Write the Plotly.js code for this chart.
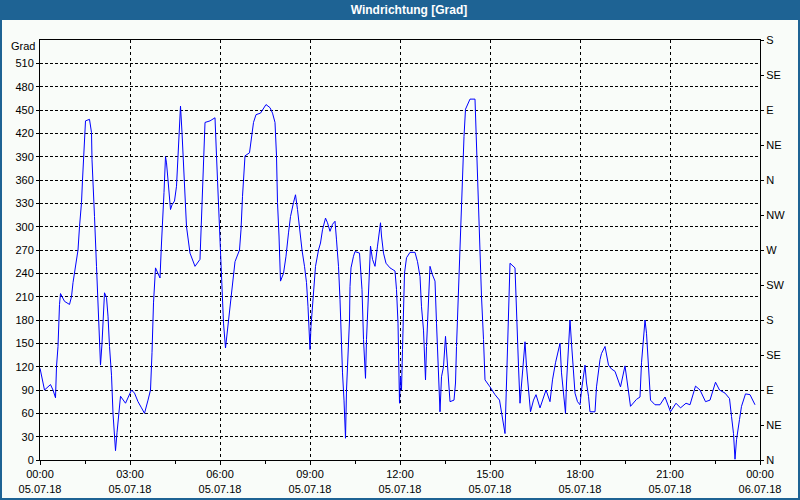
<!DOCTYPE html>
<html>
<head>
<meta charset="utf-8">
<script src="https://cdn.plot.ly/plotly-3.0.1.min.js"></script>
<style>html,body{margin:0;padding:0;background:#f9fcf9;}#chart{width:800px;height:500px;}</style>
</head>
<body>
<div id="chart"></div>
<script>
const day = '2018-07-05';
const times = ['00:00','00:09','00:21','00:26','00:31','00:33','00:36','00:37','00:39','00:41','00:49','00:59','01:03','01:06','01:09','01:13','01:16','01:19','01:23','01:25','01:27','01:29','01:31','01:39','01:43','01:44','01:46','01:49','01:53','01:55','01:57','01:59','02:01','02:04','02:07','02:09','02:13','02:16','02:19','02:23','02:26','02:29','02:31','02:34','02:37','02:41','02:51','02:59','03:03','03:09','03:16','03:23','03:29','03:36','03:41','03:44','03:47','03:51','03:55','04:00','04:03','04:06','04:08','04:11','04:13','04:16','04:21','04:24','04:29','04:33','04:36','04:39','04:41','04:44','04:47','04:51','04:53','05:00','05:10','05:20','05:23','05:27','05:30','05:40','05:50','05:53','05:58','06:01','06:04','06:07','06:11','06:15','06:20','06:25','06:30','06:39','06:42','06:45','06:50','06:59','07:03','07:07','07:12','07:21','07:32','07:40','07:45','07:50','07:53','07:55','07:58','08:01','08:07','08:12','08:17','08:21','08:27','08:31','08:35','08:39','08:44','08:49','08:53','08:56','08:58','09:00','09:02','09:05','09:08','09:11','09:17','09:21','09:25','09:31','09:35','09:40','09:45','09:50','09:53','09:57','10:00','10:03','10:05','10:08','10:10','10:11','10:13','10:16','10:19','10:20','10:22','10:27','10:30','10:39','10:41','10:44','10:47','10:49','10:51','10:53','10:56','10:59','11:01','11:05','11:10','11:15','11:19','11:21','11:23','11:27','11:32','11:40','11:50','11:53','11:56','11:58','11:59','12:01','12:03','12:05','12:07','12:09','12:13','12:20','12:30','12:35','12:40','12:43','12:47','12:49','12:51','12:53','12:57','13:00','13:05','13:10','13:13','13:17','13:20','13:23','13:27','13:31','13:33','13:37','13:40','13:48','13:51','13:53','13:56','13:59','14:02','14:05','14:08','14:11','14:17','14:20','14:30','14:33','14:37','14:40','14:43','14:47','14:50','15:00','15:10','15:19','15:23','15:27','15:30','15:33','15:37','15:40','15:50','15:53','15:57','16:00','16:03','16:07','16:10','16:13','16:17','16:21','16:27','16:32','16:40','16:47','16:52','17:00','17:05','17:11','17:16','17:20','17:23','17:27','17:31','17:33','17:37','17:40','17:43','17:47','17:50','17:55','18:00','18:03','18:07','18:10','18:13','18:17','18:20','18:30','18:33','18:37','18:40','18:43','18:50','18:57','19:03','19:10','19:21','19:30','19:33','19:41','19:53','20:00','20:03','20:10','20:13','20:18','20:21','20:30','20:40','20:50','21:01','21:12','21:21','21:32','21:40','21:51','22:00','22:11','22:20','22:31','22:39','22:50','22:59','23:03','23:07','23:10','23:13','23:19','23:23','23:31','23:40','23:50'];
const values = [118,90,97,90,80,120,146,172,200,214,204,200,210,228,241,254,270,300,331,360,390,421,436,438,421,386,348,313,249,219,191,150,122,150,193,215,209,185,146,109,60,26,12,35,60,82,73,86,90,86,75,67,60,77,90,138,202,247,241,234,279,313,344,390,382,360,322,328,333,352,395,434,455,421,373,331,300,266,249,258,309,382,434,436,440,391,318,262,210,176,144,167,193,223,255,270,296,339,391,395,412,434,444,446,457,453,446,434,391,331,288,230,240,262,292,313,331,341,322,296,270,249,228,197,172,142,172,202,228,249,270,279,296,311,305,294,303,307,283,249,206,146,112,77,47,28,90,137,180,223,247,262,268,266,249,219,155,120,105,155,210,253,275,258,249,275,296,305,288,266,253,247,243,219,176,125,73,107,90,142,197,240,260,267,267,255,236,197,167,120,103,146,202,249,238,230,176,112,62,107,120,159,142,99,75,77,99,146,202,270,322,369,416,451,459,464,464,399,331,262,210,155,103,94,84,77,62,47,34,99,185,253,247,185,120,73,99,133,152,120,90,62,77,84,67,82,90,75,103,125,140,150,112,82,60,99,150,180,150,112,86,75,71,90,107,122,99,82,62,62,94,116,129,137,146,122,117,114,94,121,107,69,78,81,125,180,163,112,77,71,71,81,62,73,67,73,71,95,90,75,77,100,90,86,79,56,34,1,26,52,69,85,84,71];
const leftTicks = [0,30,60,90,120,150,180,210,240,270,300,330,360,390,420,450,480,510];
const rightTicks = [0,45,90,135,180,225,270,315,360,405,450,495,540];
const rightLabels = ['N','NE','E','SE','S','SW','W','NW','N','NE','E','SE','S'];

const x = times.map(t => day + ' ' + t + ':00');
const FONT = 'Liberation Sans, Arial, sans-serif';
const BLUE = 'rgb(30,99,148)';
const BG = '#f9fcf9';

const trace = {x: x, y: values, type: 'scatter', mode: 'lines',
  line: {color: '#0000ff', width: 1}, hoverinfo: 'skip', showlegend: false};
const dummy = {x: [x[0]], y: [0], yaxis: 'y2', type: 'scatter', mode: 'markers',
  marker: {opacity: 0}, showlegend: false, hoverinfo: 'skip'};

const W = 720, H = 420;
const px = p => (p - 40) / W;
const py = q => (460 - q) / H;

const layout = {
  width: 800, height: 500,
  margin: {l: 40, r: 40, t: 40, b: 40, pad: 0},
  paper_bgcolor: BG, plot_bgcolor: BG,
  font: {family: FONT, size: 11, color: '#000'},
  title: {text: 'Windrichtung [Grad]', font: {family: FONT, size: 12, color: '#ffffff', weight: 'bold'},
    x: 409/800, xref: 'container', xanchor: 'center', y: 1 - 10/500, yref: 'container', yanchor: 'middle'},
  xaxis: {type: 'date', range: [day + ' 00:00:00', '2018-07-06 00:00:00'],
    tick0: day + ' 00:00:00', dtick: 3*3600000, tickformat: '%H:%M<br>%d.%m.%y',
    ticks: 'outside', ticklen: 4, tickcolor: '#000', tickwidth: 1,
    minor: {dtick: 1.5*3600000, ticks: 'outside', ticklen: 3, tickcolor: '#000', showgrid: false},
    showgrid: true, gridcolor: '#000', griddash: '3px,3px', gridwidth: 1,
    showline: true, linecolor: '#000', linewidth: 1, mirror: true, zeroline: false,
    fixedrange: true, tickfont: {family: FONT, size: 11}},
  yaxis: {range: [0, 540], tickvals: leftTicks, ticktext: leftTicks.map(String),
    ticks: 'outside', ticklen: 3, tickcolor: '#000',
    showgrid: true, gridcolor: '#000', griddash: '3px,2px', gridwidth: 1,
    showline: true, linecolor: '#000', linewidth: 1, mirror: true, zeroline: false,
    fixedrange: true, tickfont: {family: FONT, size: 11}},
  yaxis2: {range: [0, 540], overlaying: 'y', side: 'right', anchor: 'x',
    tickvals: rightTicks, ticktext: rightLabels,
    ticks: 'outside', ticklen: 3, tickcolor: '#000',
    showgrid: false, showline: true, linecolor: '#000', zeroline: false,
    fixedrange: true, tickfont: {family: FONT, size: 11}},
  annotations: [{text: 'Grad', xref: 'paper', yref: 'paper', x: px(37), y: py(46),
    xanchor: 'right', yanchor: 'middle', showarrow: false, font: {family: FONT, size: 11, color: '#000'}}],
  shapes: [
    {type: 'rect', xref: 'paper', yref: 'paper', x0: px(0), x1: px(800), y0: py(20), y1: py(0), fillcolor: BLUE, line: {width: 0}},
    {type: 'rect', xref: 'paper', yref: 'paper', x0: px(0), x1: px(2), y0: py(500), y1: py(0), fillcolor: BLUE, line: {width: 0}},
    {type: 'rect', xref: 'paper', yref: 'paper', x0: px(798), x1: px(800), y0: py(500), y1: py(0), fillcolor: BLUE, line: {width: 0}},
    {type: 'rect', xref: 'paper', yref: 'paper', x0: px(0), x1: px(800), y0: py(500), y1: py(498), fillcolor: BLUE, line: {width: 0}}
  ]
};

Plotly.newPlot('chart', [trace, dummy], layout, {staticPlot: true, displayModeBar: false});
</script>
</body>
</html>
